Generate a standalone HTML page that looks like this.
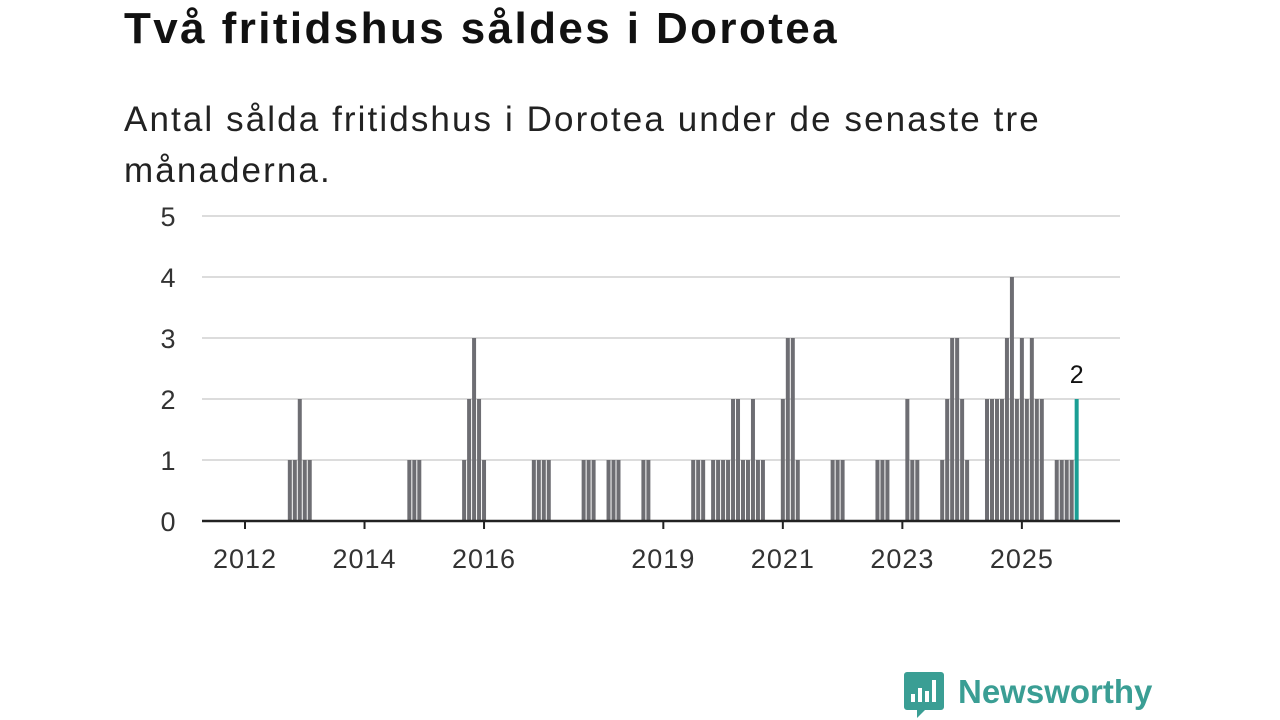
<!DOCTYPE html>
<html><head><meta charset="utf-8"><style>
body{margin:0;width:1280px;height:720px;background:#fff;overflow:hidden;font-family:"Liberation Sans","DejaVu Sans",sans-serif;}
#title{position:absolute;left:124px;top:4px;font-size:44px;letter-spacing:2.4px;font-weight:bold;color:#111;margin:0;white-space:nowrap;}
#sub{position:absolute;left:124px;top:94px;font-size:35px;letter-spacing:2.1px;line-height:51px;color:#222;margin:0;width:1100px;}
svg{position:absolute;left:0;top:0;}
</style></head><body>
<h1 id="title">Två fritidshus såldes i Dorotea</h1>
<p id="sub">Antal sålda fritidshus i Dorotea under de senaste tre<br>månaderna.</p>
<svg id="chart" width="1280" height="720"></svg>
<script>
const years=[2012,2013,2014,2015,2016,2017,2018,2019,2020,2021,2022,2023,2024,2025];
const monthlySales=[
[0,0,0,0,0,0,0,0,0,1,1,2],
[1,1,0,0,0,0,0,0,0,0,0,0],
[0,0,0,0,0,0,0,0,0,1,1,1],
[0,0,0,0,0,0,0,0,1,2,3,2],
[1,0,0,0,0,0,0,0,0,0,1,1],
[1,1,0,0,0,0,0,0,1,1,1,0],
[0,1,1,1,0,0,0,0,1,1,0,0],
[0,0,0,0,0,0,1,1,1,0,1,1],
[1,1,2,2,1,1,2,1,1,0,0,0],
[2,3,3,1,0,0,0,0,0,0,1,1],
[1,0,0,0,0,0,0,1,1,1,0,0],
[0,2,1,1,0,0,0,0,1,2,3,3],
[2,1,0,0,0,2,2,2,2,3,4,2],
[3,2,3,2,2,0,0,1,1,1,1,2]];
const yTicks=[0,1,2,3,4,5];
const xTickYears=[2012,2014,2016,2019,2021,2023,2025];
const NS="http://www.w3.org/2000/svg";
const svg=document.getElementById('chart');
const X0=202,X1=1120,Y0=521,Y5=216;
const pxPerMonth=4.98, baseX=245;
function xScale(m){return baseX+m*pxPerMonth;}
function yScale(v){return Y0-(Y0-Y5)*v/5;}
function mk(t,a){const e=document.createElementNS(NS,t);for(const k in a)e.setAttribute(k,a[k]);svg.appendChild(e);return e;}
yTicks.forEach(v=>{
  if(v>0){const g=mk('line',{x1:X0,x2:X1,y1:yScale(v),y2:yScale(v),stroke:'#dcdcdc','stroke-width':2});
  
  }
  const t=mk('text',{x:168,y:yScale(v)+10,'text-anchor':'middle','font-size':27,fill:'#333'});
  t.textContent=v;
  
  
});
const flat=[];monthlySales.forEach(r=>r.forEach(v=>flat.push(v)));
const lastIdx=flat.length-1;
flat.forEach((v,i)=>{
  if(v<=0)return;
  const x=xScale(i);
  const r=mk('rect',{x:x-2,y:yScale(v),width:4,height:Y0-yScale(v),fill:i===lastIdx?'#1a9e94':'#6e6e73'});
  
  
});
const lv=mk('text',{x:xScale(lastIdx),y:yScale(flat[lastIdx])-16,'text-anchor':'middle','font-size':25,fill:'#111'});
lv.textContent=flat[lastIdx];


const ax=mk('line',{x1:X0,x2:X1,y1:Y0,y2:Y0,stroke:'#222','stroke-width':2.5});


xTickYears.forEach(yr=>{
  const x=xScale((yr-years[0])*12);
  const tk=mk('line',{x1:x,x2:x,y1:Y0,y2:Y0+8,stroke:'#222','stroke-width':2});
  
  
  const t=mk('text',{x:x,y:568,'text-anchor':'middle','font-size':27,'letter-spacing':1,fill:'#333'});
  t.textContent=yr;
  
  
});
</script>
<svg width="1280" height="720" style="pointer-events:none">
<path d="M907 672 h34 a3 3 0 0 1 3 3 v32 a3 3 0 0 1 -3 3 h-16 l-8 8 v-8 h-10 a3 3 0 0 1 -3 -3 v-32 a3 3 0 0 1 3 -3z" fill="#3a9e94"/>
<rect x="911" y="694" width="4" height="8" fill="#fff"/><rect x="918" y="688" width="4" height="14" fill="#fff"/><rect x="925" y="691" width="4" height="11" fill="#fff"/><rect x="932" y="680" width="4" height="22" fill="#fff"/>
<text x="958" y="703" font-size="33" font-weight="bold" fill="#3a9e94" font-family="Liberation Sans, sans-serif">Newsworthy</text>
</svg>
</body></html>
